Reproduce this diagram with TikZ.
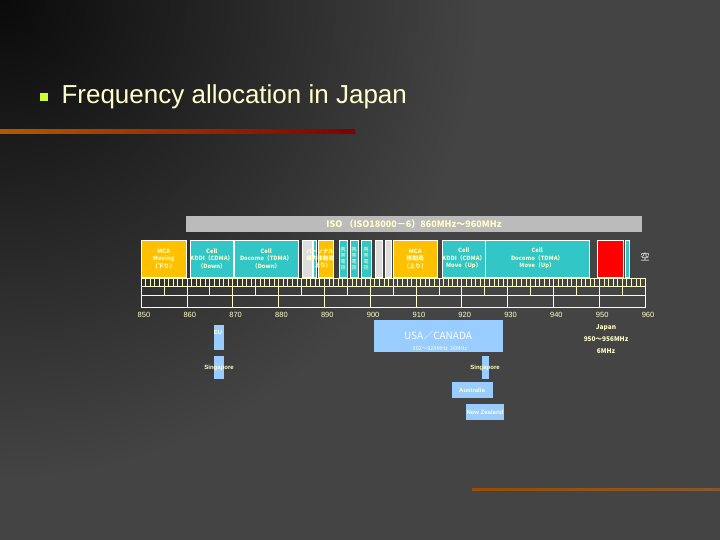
\documentclass[tikz,border=0pt]{standalone}
\usepackage{fontspec}
\setmainfont{Liberation Sans}
\newfontfamily\cjk{Noto Sans CJK JP}
\begin{document}
\begin{tikzpicture}[x=1pt,y=-1pt,
  band/.style={draw=white,line width=0.4pt,inner sep=0pt,anchor=north west,font=\cjk\fontsize{5.8}{7.5}\selectfont\bfseries,text=cream,align=center},
  reg/.style={fill=lblue,inner sep=0pt,anchor=north west},
  rlab/.style={font=\fontsize{6}{7}\selectfont\bfseries,text=cream},
  axl/.style={font=\fontsize{7.5}{8}\selectfont,text=cream}]
\definecolor{cream}{HTML}{FFFFCC}
\definecolor{myel}{HTML}{FFC000}
\definecolor{teal2}{HTML}{33C6C6}
\definecolor{lgray}{HTML}{DDDDDD}
\definecolor{lblue}{HTML}{99CCFF}
\definecolor{isog}{HTML}{BBBBBB}
\definecolor{bul}{HTML}{CCFF33}
\definecolor{bgdark}{HTML}{0A0A0A}
\definecolor{bglight}{HTML}{444444}
\useasboundingbox (0,0) rectangle (720,540);
\begin{scope}
\clip (0,0) rectangle (720,540);
\fill[bglight] (0,0) rectangle (720,540);
\shade[inner color=bgdark,outer color=bglight] (0,0) circle (480);
\end{scope}
% title
\fill[bul] (40,93) rectangle (48,101);
\node[anchor=west,text=cream,font=\fontsize{26}{30}\selectfont] (title) at (58,97) {Frequency allocation in Japan};
\shade[left color=orange!70!black,right color=red!50!black] (0,130) rectangle (355,134);
\shade[left color=orange!60!black,right color=brown!70!black] (472,488.5) rectangle (720,490.5);
% ISO bar
\fill[isog] (186,216) rectangle (642,232);
\node[text=cream,font=\cjk\fontsize{9}{10}\selectfont\bfseries] (iso) at (414,224) {ISO\ （ISO18000－6）860MHz～960MHz};
% bands
\node[band,fill=myel,minimum width=45,minimum height=37] (b1) at (141,240) {MCA\\Moving\\（下り）};
\node[band,fill=teal2,minimum width=40,minimum height=37] (b2) at (190,240) {Cell\\KDDI（CDMA）\\（Down）};
\node[band,fill=teal2,minimum width=64,minimum height=37] (b3) at (234,240) {Cell\\Docomo（TDMA）\\（Down）};
\node[band,fill=lgray,minimum width=10,minimum height=37] (b4) at (302,240) {};
\node[band,fill=teal2,minimum width=3,minimum height=37] (b5) at (313,240) {};
\node[band,fill=myel,minimum width=15,minimum height=37] (b6) at (318,240) {};
\node[font=\cjk\fontsize{5.5}{7}\selectfont\bfseries,text=cream,align=center] (b6t) at (320,258) {パーソナル\\構内移動局\\（上り）};
\node[band,fill=teal2,minimum width=8,minimum height=37,font=\cjk\fontsize{5}{6}\selectfont] (b7) at (339,240) {携\\帯\\電\\話};
\node[band,fill=teal2,minimum width=8,minimum height=37,font=\cjk\fontsize{5}{6}\selectfont] (b8) at (350,240) {携\\帯\\電\\話};
\node[band,fill=teal2,minimum width=10,minimum height=37,font=\cjk\fontsize{5}{6}\selectfont] (b9) at (361,240) {携\\帯\\電\\話};
\node[band,fill=lgray,minimum width=7,minimum height=37] (b10) at (375,240) {};
\node[band,fill=lgray,minimum width=6,minimum height=37] (b11) at (385,240) {};
\node[band,fill=myel,minimum width=44,minimum height=37] (b12) at (393,240) {MCA\\移動局\\（上り）};
\node[band,fill=teal2,minimum width=38,minimum height=37] (b13) at (442,240) {Cell\\KDDI（CDMA）\\Move（Up）};
\node[band,fill=teal2,minimum width=104,minimum height=37] (b14) at (485,240) {Cell\\Docomo（TDMA）\\Move（Up）};
\node[band,fill=red,minimum width=26,minimum height=37] (b15) at (597,240) {};
\node[band,fill=teal2,minimum width=4,minimum height=37] (b16) at (625,240) {};
\node[text=white,font=\cjk\fontsize{9}{10}\selectfont] (sora) at (645,257) {空};
% ruler
\draw[cream,line width=0.5pt] (141,278) rectangle (645,307);
\draw[cream,line width=0.5pt] (141,286) -- (645,286) (141,295) -- (645,295);
\foreach \i in {1,...,109} \draw[cream,line width=0.5pt] ({141+4.582*\i},278) -- ({141+4.582*\i},286);
\foreach \i in {1,...,21} \draw[cream,line width=0.5pt] ({141+22.91*\i},286) -- ({141+22.91*\i},295);
\foreach \i in {1,...,10} \draw[cream,line width=0.5pt] ({141+45.82*\i},295) -- ({141+45.82*\i},307);
\foreach \f [count=\i from 0] in {850,860,870,880,890,900,910,920,930,940,950,960}
  \node[axl] (ax\f) at ({144+45.82*\i},315) {\f};
% Japan
\node[text=cream,align=center,font=\cjk\fontsize{6.5}{12}\selectfont\bfseries] (jp) at (606,339) {Japan\\950～956MHz\\6MHz};
% regions
\node[reg,minimum width=10,minimum height=25] (eu) at (214,325) {};
\node[rlab] (eut) at (218,332) {EU};
\node[reg,minimum width=10,minimum height=23] (sg1) at (214,356) {};
\node[rlab] (sg1t) at (219,368) {Singapore};
\node[reg,minimum width=129,minimum height=32] (usa) at (374,320) {};
\node[text=white,font=\cjk\fontsize{10}{11}\selectfont] (usat) at (438,336) {USA／CANADA};
\node[text=cream,font=\cjk\fontsize{5.5}{6}\selectfont] (usas) at (440,349) {902～928MHz\ \ 26MHz};
\node[reg,minimum width=7,minimum height=23] (sg2) at (482,356) {};
\node[rlab] (sg2t) at (485,368) {Singapore};
\node[reg,minimum width=41,minimum height=16] (au) at (452,382) {};
\node[rlab] (aut) at (472,390) {Australia};
\node[reg,minimum width=38,minimum height=16] (nz) at (466,404) {};
\node[rlab] (nzt) at (485,412) {New Zealand};
\end{tikzpicture}
\end{document}
